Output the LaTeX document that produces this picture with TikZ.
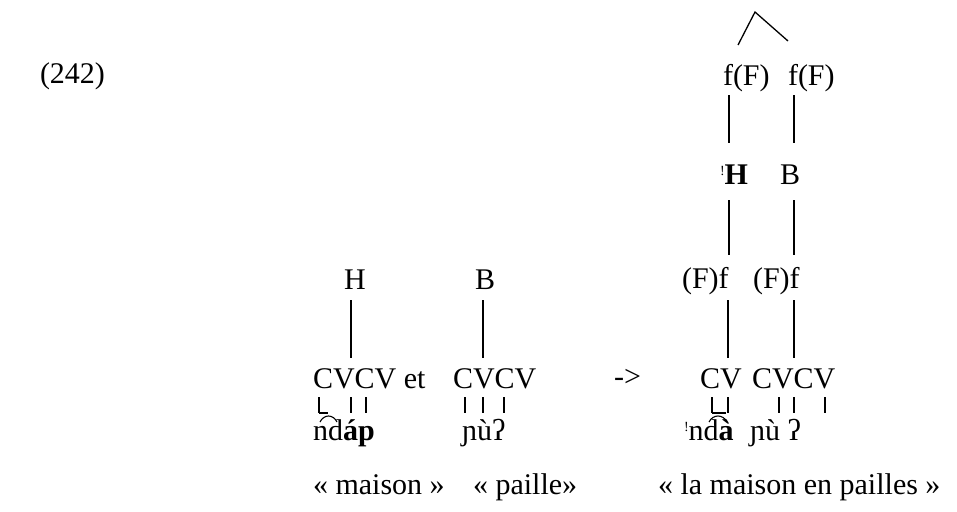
\documentclass[tikz,border=0pt]{standalone}
\usepackage{fontspec}
\setmainfont{Liberation Serif}
\begin{document}
\begin{tikzpicture}[x=1pt,y=-1pt,
  txt/.style={inner sep=0pt, outer sep=0pt, anchor=base west, font=\fontsize{30}{36}\selectfont},
  ctxt/.style={txt, anchor=base},
  assoc/.style={line width=1.3pt},
  tick/.style={line width=1.1pt}]
\useasboundingbox (0,0) rectangle (957,511);
\newcommand{\dstep}{\raisebox{9pt}{\fontsize{14}{14}\selectfont !}}
% example number
\node[txt] (num) at (40,83) {(242)};
% left part
\node[ctxt] (H1) at (355,289) {H};
\node[ctxt] (B1) at (485,289) {B};
\node[txt] (cv1) at (313,388) {CVCV et};
\node[txt] (cv2) at (453,388) {CVCV};
\node[txt] (arrow) at (614,386) {->};
\node[txt] (w1) at (313,440) {nd\textbf{áp}};
\node[txt] (w2) at (462,440) {ɲùʔ};
\node[txt] (g1) at (313,494) {«~maison~»};
\node[txt] (g2) at (473,494) {«~paille»};
% right part
\node[txt] (fF1) at (723,85) {f(F)};
\node[txt] (fF2) at (788,85) {f(F)};
\node[txt] (dH) at (720,184) {\dstep\textbf{H}};
\node[txt] (B2) at (780,184) {B};
\node[txt] (Ff1) at (682,288) {(F)f};
\node[txt] (Ff2) at (753,288) {(F)f};
\node[txt] (cv3) at (700,388) {CV};
\node[txt] (cv4) at (752,388) {CVCV};
\node[txt] (w3) at (684,440) {\dstep nd\textbf{à}};
\node[txt] (w4) at (750,440) {ɲù ʔ};
\node[txt] (g3) at (658,494) {«~la maison en pailles~»};
% tree top
\coordinate (apex) at (755,12);
\coordinate (legL) at (738,45);
\coordinate (legR) at (788,41);
\draw[assoc] (legL) -- (apex) -- (legR);
% association lines (right)
\draw[assoc] (729,95) -- (729,143);
\draw[assoc] (794,95) -- (794,143);
\draw[assoc] (729,200) -- (729,255);
\draw[assoc] (794,200) -- (794,255);
\draw[assoc] (728,300) -- (728,358);
\draw[assoc] (794,300) -- (794,358);
% association lines (left)
\draw[assoc] (351,300) -- (351,358);
\draw[assoc] (483,300) -- (483,358);
% small ticks
\foreach \x in {319,351,366,465,483,504,712,728,779,794,825}
  \draw[tick] (\x,397) -- (\x,413);
\draw[tick] (319,413) -- (328,413);
\draw[tick] (712,413) -- (726,413);
% tie arcs
\draw[tick] (320,422) .. controls (324,414) and (333,414) .. (337,422);
\draw[tick] (709,422) .. controls (713,414) and (723,414) .. (727,422);
\end{tikzpicture}
\end{document}
